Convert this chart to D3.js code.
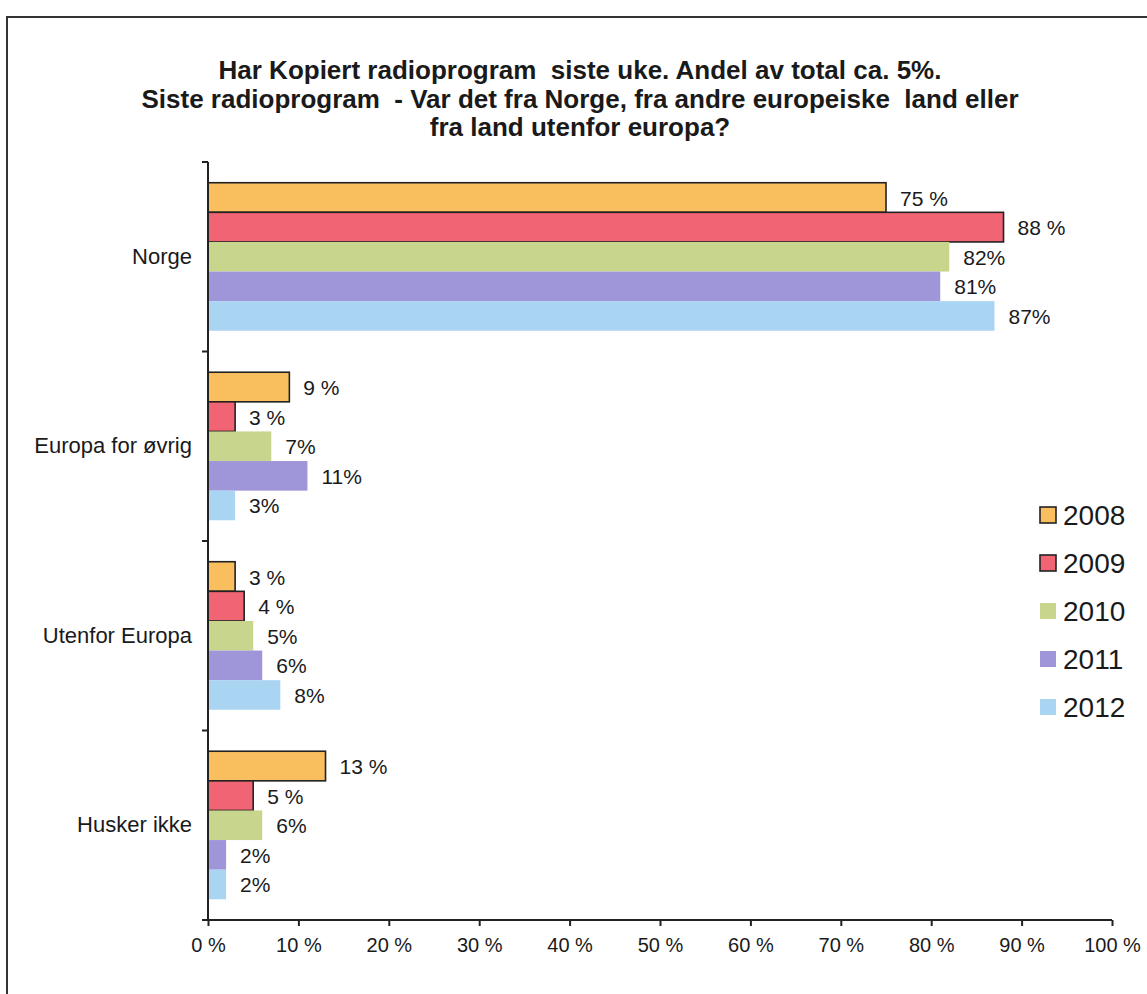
<!DOCTYPE html>
<html>
<head>
<meta charset="utf-8">
<script src="https://cdn.jsdelivr.net/npm/d3@7"></script>
<style>
  html, body { margin: 0; padding: 0; background: #fff; }
  svg { display: block; }
  text { font-family: "Liberation Sans", Arial, sans-serif; fill: #1a1a1a; }
</style>
</head>
<body>
<svg id="chart" width="1147" height="994"></svg>
<script>
const titleLines = [
  "Har Kopiert radioprogram  siste uke. Andel av total ca. 5%.",
  "Siste radioprogram  - Var det fra Norge, fra andre europeiske  land eller",
  "fra land utenfor europa?"
];
const categories = ["Norge", "Europa for øvrig", "Utenfor Europa", "Husker ikke"];
const years = ["2008", "2009", "2010", "2011", "2012"];
const values2008 = [75, 9, 3, 13];
const values2009 = [88, 3, 4, 5];
const values2010 = [82, 7, 5, 6];
const values2011 = [81, 11, 6, 2];
const values2012 = [87, 3, 8, 2];
const seriesValues = [values2008, values2009, values2010, values2011, values2012];
const xTicks = [0, 10, 20, 30, 40, 50, 60, 70, 80, 90, 100];
const colors = ["#F9BF5E", "#F16474", "#C7D58D", "#9E96D8", "#AAD5F2"];
const outlined = [true, true, false, false, false];

const svg = d3.select("#chart");

// frame
svg.append("path")
  .attr("d", "M7,994 L7,17 L1147,17")
  .attr("fill", "none").attr("stroke", "#333").attr("stroke-width", 2);

// title
const title = svg.append("g");
titleLines.forEach((t, i) => {
  title.append("text")
    .attr("x", 580).attr("y", 79 + i * 28.5)
    .attr("text-anchor", "middle")
    .style("font-weight", "bold").style("font-size", "26px")
    .style("white-space", "pre")
    .text(t);
});

const x = d3.scaleLinear().domain([0, 100]).range([208, 1112]);
const y = d3.scaleBand().domain(categories).range([162, 920]).padding(0);
const yInner = d3.scaleBand().domain(years).range([0, y.bandwidth()]).paddingInner(0).paddingOuter(0.7);

// bars
const data = [];
categories.forEach((c, ci) => {
  years.forEach((yr, yi) => {
    data.push({ cat: c, year: yr, yi: yi, v: seriesValues[yi][ci] });
  });
});

const bars = svg.append("g");
bars.selectAll("rect").data(data).join("rect")
  .attr("x", x(0))
  .attr("y", d => y(d.cat) + yInner(d.year))
  .attr("width", d => x(d.v) - x(0))
  .attr("height", yInner.bandwidth())
  .attr("fill", d => colors[d.yi])
  .attr("stroke", d => outlined[d.yi] ? "#222" : "none")
  .attr("stroke-width", 1.6);

// data labels
svg.append("g").selectAll("text").data(data).join("text")
  .attr("x", d => x(d.v) + 14)
  .attr("y", d => y(d.cat) + yInner(d.year) + yInner.bandwidth() / 2 + 8)
  .style("font-size", "21px")
  .text(d => outlined[d.yi] ? d.v + " %" : d.v + "%");

// x axis
const xAxis = svg.append("g")
  .attr("transform", "translate(0,920)")
  .call(d3.axisBottom(x).tickValues(xTicks).tickSize(6).tickPadding(12).tickFormat(d => d + " %"));
xAxis.select(".domain").attr("stroke", "#222").attr("stroke-width", 2)
  .attr("d", `M${x(0)},0H${x(100)}`);
xAxis.selectAll(".tick line").attr("stroke", "#222").attr("stroke-width", 2);
xAxis.selectAll(".tick text").style("font-size", "20px").attr("fill", "#1a1a1a")
  .style("font-family", '"Liberation Sans", Arial, sans-serif');

// y axis
const yAxis = svg.append("g")
  .attr("transform", `translate(${x(0)},0)`)
  .call(d3.axisLeft(y).tickSize(0).tickPadding(16));
yAxis.select(".domain").attr("stroke", "#222").attr("stroke-width", 2)
  .attr("d", "M0,162V920");
yAxis.selectAll(".tick text").style("font-size", "22px").attr("fill", "#1a1a1a")
  .style("font-family", '"Liberation Sans", Arial, sans-serif');
const boundaries = categories.map(c => y(c)).concat([y.range()[1]]);
yAxis.append("g").selectAll("line").data(boundaries).join("line")
  .attr("x1", -6).attr("x2", 0)
  .attr("y1", d => d).attr("y2", d => d)
  .attr("stroke", "#222").attr("stroke-width", 2);

// legend
const legend = svg.append("g").attr("transform", "translate(1040,515)");
const li = legend.selectAll("g").data(years).join("g")
  .attr("transform", (d, i) => `translate(0,${i * 48})`);
li.append("rect")
  .attr("x", 0).attr("y", -8).attr("width", 16).attr("height", 16)
  .attr("fill", (d, i) => colors[i])
  .attr("stroke", (d, i) => outlined[i] ? "#222" : "none")
  .attr("stroke-width", 1.6);
li.append("text")
  .attr("x", 23).attr("y", 10)
  .style("font-size", "28px")
  .text(d => d);
</script>
</body>
</html>
